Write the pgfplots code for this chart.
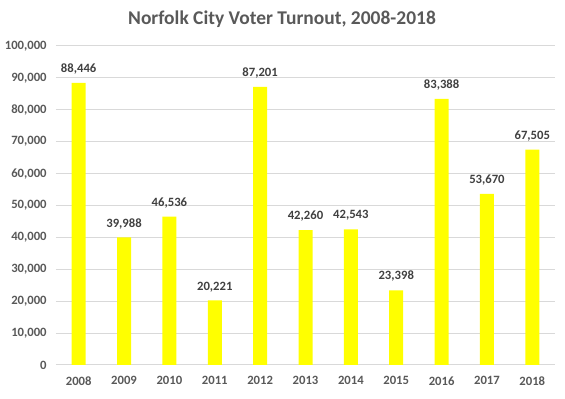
\documentclass[border=0pt]{standalone}
\usepackage{pgfplots}
\pgfplotsset{compat=1.18}
\usepackage{fontspec}
\setmainfont{Carlito}
\definecolor{txtgray}{HTML}{595959}
\definecolor{lblgray}{HTML}{404040}
\definecolor{gridgray}{HTML}{D9D9D9}
\definecolor{baryellow}{HTML}{FFFF00}
\begin{document}
\begin{tikzpicture}
\useasboundingbox (0,0) rectangle (423.75pt,299.25pt);
\begin{axis}[
  at={(42pt,25.5pt)}, anchor=south west,
  scale only axis,
  width=374.25pt, height=239.25pt,
  xmin=-0.5, xmax=10.5,
  ymin=0, ymax=100000,
  ytick={0,10000,20000,30000,40000,50000,60000,70000,80000,90000,100000},
  yticklabels={0,{10,000},{20,000},{30,000},{40,000},{50,000},{60,000},{70,000},{80,000},{90,000},{100,000}},
  xtick={0,...,10},
  xticklabels={2008,2009,2010,2011,2012,2013,2014,2015,2016,2017,2018},
  axis x line*=bottom,
  axis y line*=left,
  axis line style={draw=none},
  ymajorgrids,
  grid style={gridgray, line width=0.75pt},
  major tick length=0pt,
  tick style={draw=none},
  scaled y ticks=false,
  y tick label style={font=\bfseries\fontsize{9.5}{11}\selectfont, text=txtgray, xshift=-3.5pt},
  x tick label style={font=\bfseries\fontsize{9.5}{11}\selectfont, text=txtgray, yshift=-5pt},
  ybar, bar width=10.5pt,
  nodes near coords,
  nodes near coords style={font=\bfseries\fontsize{9.5}{11}\selectfont, text=lblgray, yshift=3pt, /pgf/number format/1000 sep={,}, /pgf/number format/assume math mode=true},
  clip=false,
]
\draw[gridgray, line width=0.75pt] (axis cs:-0.5,0) -- (axis cs:10.5,0);
\addplot[fill=baryellow, draw=none] coordinates {
(0,88446) (1,39988) (2,46536) (3,20221) (4,87201) (5,42260) (6,42543) (7,23398) (8,83388) (9,53670) (10,67505)};
\end{axis}
\node[font=\bfseries\fontsize{14.6}{17}\selectfont, text=txtgray] at (211.5pt,285pt) {Norfolk City Voter Turnout, 2008-2018};
\end{tikzpicture}
\end{document}
